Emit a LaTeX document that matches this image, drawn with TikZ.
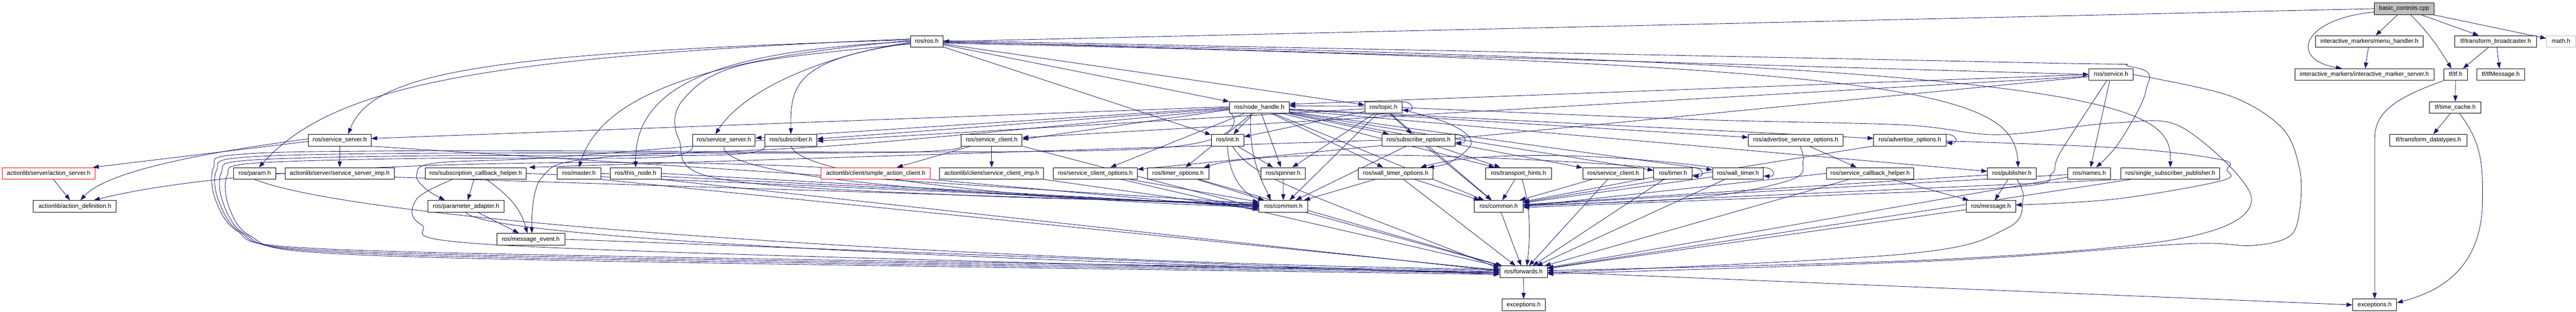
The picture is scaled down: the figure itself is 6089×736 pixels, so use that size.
\documentclass[tikz,border=0pt]{standalone}
\usepackage{fontspec}
\setmainfont{Liberation Sans}
\usetikzlibrary{arrows.meta,backgrounds}
\definecolor{edgeblue}{HTML}{191970}
\definecolor{srcgray}{HTML}{BFBFBF}
\tikzset{>={Triangle[length=14pt,width=10pt]}}
\tikzset{
  hdr/.style={draw=black, line width=1.1pt, fill=white, minimum height=27.5pt,
    inner xsep=2pt, inner ysep=0pt, text height=10.6pt, text depth=3pt,
    font=\fontsize{14.3pt}{16pt}\selectfont},
  redhdr/.style={hdr, draw=red},
  dep/.style={->, draw=edgeblue, line width=1.05pt},
}

\begin{document}
\begin{tikzpicture}[x=1pt,y=1pt]
  \useasboundingbox (0,0) rectangle (6089,-736);

  \node[hdr, fill=srcgray, minimum width=141pt] (bc) at (5682.5,-20.5) {basic\_controls.cpp};

  \node[hdr, minimum width=77pt] (rosh) at (2190.5,-98) {ros/ros.h};
  \node[hdr, minimum width=255pt] (menuh) at (5600.5,-98) {interactive\_markers/menu\_handler.h};
  \node[hdr, minimum width=194pt] (tfbc) at (5899,-98) {tf/transform\_broadcaster.h};
  \node[hdr, draw=srcgray, minimum width=69pt] (mathh) at (6053.5,-98) {math.h};

  \node[hdr, minimum width=104pt] (service) at (4990,-176) {ros/service.h};
  \node[hdr, minimum width=329pt] (ims) at (5588.5,-176) {interactive\_markers/interactive\_marker\_server.h};
  \node[hdr, minimum width=55pt] (tftf) at (5804.5,-176) {tf/tf.h};
  \node[hdr, minimum width=114pt] (tfmsg) at (5911,-176) {tf/tfMessage.h};

  \node[hdr, minimum width=141pt] (nh) at (2976.5,-254) {ros/node\_handle.h};
  \node[hdr, minimum width=88pt] (topic) at (3270,-254) {ros/topic.h};
  \node[hdr, minimum width=121pt] (tcache) at (5803.5,-254) {tf/time\_cache.h};

  \node[hdr, minimum width=148pt] (srvsrvA) at (803,-331) {ros/service\_server.h};
  \node[hdr, minimum width=148pt] (srvsrvB) at (1711,-331) {ros/service\_server.h};
  \node[hdr, minimum width=123pt] (subscriber) at (1869.5,-331) {ros/subscriber.h};
  \node[hdr, minimum width=144pt] (srvcliA) at (2344,-331) {ros/service\_client.h};
  \node[hdr, minimum width=77pt] (init) at (2901.5,-331) {ros/init.h};
  \node[hdr, minimum width=172pt] (subopts) at (3353,-331) {ros/subscribe\_options.h};
  \node[hdr, minimum width=223pt] (advsrvopts) at (4244.5,-331) {ros/advertise\_service\_options.h};
  \node[hdr, minimum width=171pt] (advopts) at (4514.5,-331) {ros/advertise\_options.h};
  \node[hdr, minimum width=182pt] (tfdt) at (5740,-331) {tf/transform\_datatypes.h};

  \node[redhdr, minimum width=220pt] (actsrv) at (115,-409.5) {actionlib/server/action\_server.h};
  \node[hdr, minimum width=100pt] (param) at (602,-409.5) {ros/param.h};
  \node[hdr, minimum width=258pt] (ssimp) at (803,-409.5) {actionlib/server/service\_server\_imp.h};
  \node[hdr, minimum width=239pt] (subcb) at (1124.5,-409.5) {ros/subscription\_callback\_helper.h};
  \node[hdr, minimum width=103pt] (master) at (1368.5,-409.5) {ros/master.h};
  \node[hdr, minimum width=121pt] (thisnode) at (1502.5,-409.5) {ros/this\_node.h};
  \node[redhdr, minimum width=258pt] (sac) at (2070,-409.5) {actionlib/client/simple\_action\_client.h};
  \node[hdr, minimum width=246pt] (scimp) at (2344,-409.5) {actionlib/client/service\_client\_imp.h};
  \node[hdr, minimum width=198pt] (scopts) at (2589,-409.5) {ros/service\_client\_options.h};
  \node[hdr, minimum width=145pt] (timeropts) at (2784.5,-409.5) {ros/timer\_options.h};
  \node[hdr, minimum width=104pt] (spinner) at (3033,-409.5) {ros/spinner.h};
  \node[hdr, minimum width=176pt] (wtopts) at (3299,-409.5) {ros/wall\_timer\_options.h};
  \node[hdr, minimum width=155pt] (thints) at (3589.5,-409.5) {ros/transport\_hints.h};
  \node[hdr, minimum width=144pt] (srvcliB) at (3813,-409.5) {ros/service\_client.h};
  \node[hdr, minimum width=91pt] (timer) at (3954.5,-409.5) {ros/timer.h};
  \node[hdr, minimum width=120pt] (wtimer) at (4108,-409.5) {ros/wall\_timer.h};
  \node[hdr, minimum width=207pt] (scbh) at (4420.5,-409.5) {ros/service\_callback\_helper.h};
  \node[hdr, minimum width=115pt] (publisher) at (4755.5,-409.5) {ros/publisher.h};
  \node[hdr, minimum width=101pt] (names) at (4938.5,-409.5) {ros/names.h};
  \node[hdr, minimum width=234pt] (ssp) at (5130,-409.5) {ros/single\_subscriber\_publisher.h};

  \node[hdr, minimum width=196pt] (actdef) at (177,-487) {actionlib/action\_definition.h};
  \node[hdr, minimum width=181pt] (padapt) at (1101.5,-487) {ros/parameter\_adapter.h};
  \node[hdr, minimum width=115pt] (commonA) at (3033.5,-487) {ros/common.h};
  \node[hdr, minimum width=115pt] (commonB) at (3542.5,-487) {ros/common.h};
  \node[hdr, minimum width=116pt] (message) at (4706,-487) {ros/message.h};

  \node[hdr, minimum width=161pt] (msgevent) at (1254.5,-565) {ros/message\_event.h};
  \node[hdr, minimum width=112pt] (forwards) at (3601,-642) {ros/forwards.h};
  \node[hdr, minimum width=103pt] (excA) at (3601.5,-720) {exceptions.h};
  \node[hdr, minimum width=104pt] (excB) at (5613,-720) {exceptions.h};

  \begin{scope}[on background layer]
  \draw[dep] (bc.west) -- (rosh.east);
  \draw[dep] ([yshift=-8pt]bc.west) .. controls (5440,-45) and (5410,-140) .. ([xshift=-53pt]ims.north);
  \draw[dep] (bc) -- (menuh);
  \draw[dep] ([xshift=15pt]bc.south) .. controls (5745,-80) and (5775,-130) .. ([xshift=-10pt]tftf.north);
  \draw[dep] (bc) -- (tfbc);
  \draw[dep] (bc) -- (mathh);
  \draw[dep] (menuh) -- (ims);
  \draw[dep] (tfbc) -- (tftf);
  \draw[dep] ([xshift=3pt]tfbc.south) -- ([xshift=-3pt]tfmsg.north);
  \draw[dep] (tftf) -- (tcache);
  \draw[dep] (tftf.south west) .. controls (5650,-235) and (5613,-270) .. (5613,-330) -- (excB.north);
  \draw[dep] (tcache) -- (tfdt);
  \draw[dep] ([xshift=10pt]tcache.south) .. controls (5870,-340) and (5868,-400) .. (5868,-470) .. controls (5868,-640) and (5760,-690) .. ([yshift=5pt]excB.east);
  \draw[dep] (forwards) -- (excA);
  \draw[dep] (forwards.east) -- (excB.west);

  \draw[dep] ([yshift=6pt]rosh.west) .. controls (1100,-135) and (780,-210) .. ([xshift=10pt]param.north);
  \draw[dep] ([yshift=4pt]rosh.west) .. controls (1150,-125) and (880,-170) .. ([xshift=20pt]srvsrvA.north);
  \draw[dep] ([yshift=2pt]rosh.west) .. controls (1650,-140) and (1420,-230) .. (master.north);
  \draw[dep] (rosh.west) .. controls (1700,-120) and (1500,-200) .. (thisnode.north);
  \draw[dep] ([yshift=-2pt]rosh.west) .. controls (1950,-130) and (1760,-210) .. ([xshift=-20pt]srvsrvB.north);
  \draw[dep] ([yshift=-4pt]rosh.west) .. controls (1880,-140) and (1868,-200) .. (subscriber.north);
  \draw[dep] plot[smooth,tension=0.6] coordinates {([yshift=-6pt]rosh.west) (1760,-152) (1615,-235) (1605,-330) (1700,-422) (2300,-462) ([yshift=8pt]commonA.west)};
  \draw[dep] (rosh) -- (nh);
  \draw[dep] (rosh) -- (topic);
  \draw[dep] (rosh) -- (init);
  \draw[dep] (rosh.east) -- (service.west);
  \draw[dep] ([yshift=-4pt]rosh.east) .. controls (4550,-150) and (4760,-220) .. ([xshift=15pt]publisher.north);
  \draw[dep] ([yshift=-2pt]rosh.east) .. controls (5050,-148) and (5133,-250) .. (ssp.north);
  \draw[dep] plot[smooth,tension=0.6] coordinates {([yshift=2pt]rosh.east) (4700,-146) (5040,-158) (5072,-215) (5010,-335) ([xshift=16pt]names.north)};

  \draw[dep] ([yshift=-3pt]srvsrvA.west) -- ([xshift=-6pt]actsrv.north east);
  \draw[dep] ([yshift=3pt]srvsrvA.west) .. controls (330,-380) and (230,-430) .. ([xshift=13pt]actdef.north);
  \draw[dep] (srvsrvA) -- (ssimp);
  \draw[dep] (srvsrvA.south east) -- ([yshift=6pt]commonA.west);
  \draw[dep] (actsrv) -- (actdef);
  \draw[dep] (sac.north west) .. controls (1500,-372) and (600,-378) .. ([xshift=45pt]actdef.north);
  \draw[dep] (param.east) -- ([yshift=4pt]commonA.west);
  \draw[dep] (param.south) .. controls (900,-540) and (2600,-625) .. ([yshift=6pt]forwards.west);

  \draw[dep] plot[smooth,tension=0.55] coordinates {([yshift=-8pt]nh.west) (2700,-352) (1000,-356) (560,-365) (505,-395) (508,-468) (560,-545) (700,-584) (1500,-606) ([yshift=3pt]forwards.west)};
  \draw[dep] plot[smooth,tension=0.55] coordinates {(srvcliA.south west) (2100,-360) (1000,-362) (570,-372) (512,-402) (516,-472) (568,-548) (715,-588) (1500,-610) (forwards.west)};
  \draw[dep] plot[smooth,tension=0.55] coordinates {(subscriber.south west) (1700,-366) (1000,-368) (580,-379) (523,-408) (527,-478) (578,-552) (730,-592) (1500,-614) ([yshift=-3pt]forwards.west)};
  \draw[dep] plot[smooth,tension=0.55] coordinates {(srvsrvB.south west) (1550,-372) (1000,-374) (592,-386) (537,-415) (540,-485) (590,-556) (745,-596) (1500,-618) ([yshift=-6pt]forwards.west)};

  \draw[dep] (subcb) -- (padapt);
  \draw[dep] ([xshift=25pt]subcb.south) to[out=-35,in=105] ([xshift=-8pt]msgevent.north);
  \draw[dep] (subcb.east) -- ([yshift=2pt]commonA.west);
  \draw[dep] plot[smooth,tension=0.6] coordinates {([xshift=-55pt]subcb.south) (985,-470) (995,-530) (1170,-578) (2500,-622) ([yshift=-1pt]forwards.west)};
  \draw[dep] (padapt) -- (msgevent);
  \draw[dep] (padapt.south) .. controls (1140,-570) and (2700,-628) .. ([yshift=-3pt]forwards.west);
  \draw[dep] (msgevent.east) -- ([yshift=-6pt]forwards.west);
  \draw[dep] plot[smooth,tension=0.6] coordinates {(subscriber.west) (1300,-372) (1030,-385) (985,-412) (1005,-445) ([xshift=-50pt]padapt.north)};
  \draw[dep] plot[smooth,tension=0.6] coordinates {([yshift=-4pt]nh.west) (2000,-342) (1420,-372) (1280,-420) ([xshift=3pt]msgevent.north)};

  \draw[dep] (master.east) -- (commonA.west);
  \draw[dep] (master.south east) -- ([yshift=4pt]forwards.west);
  \draw[dep] (thisnode.east) -- ([yshift=-1pt]commonA.west);
  \draw[dep] (thisnode.south east) -- ([yshift=2pt]forwards.west);
  \draw[dep] (srvsrvB.south) .. controls (1700,-420) and (2300,-465) .. ([yshift=3pt]commonA.west);
  \draw[dep] (subscriber.south) .. controls (1900,-425) and (2500,-475) .. ([yshift=-2pt]commonA.west);

  \draw[dep] (srvcliA) -- (sac);
  \draw[dep] (srvcliA) -- (scimp);
  \draw[dep] (srvcliA.south east) -- ([yshift=-4pt]commonA.west);
  \draw[dep] (sac.south east) -- ([yshift=-6pt]commonA.west);
  \draw[dep] (scimp.south east) -- ([yshift=-8pt]commonA.west);

  \draw[dep] ([yshift=2pt]nh.west) -- ([yshift=4pt]srvsrvA.east);
  \draw[dep] (nh.west) -- ([yshift=5pt]srvsrvB.east);
  \draw[dep] ([yshift=-2pt]nh.west) -- ([yshift=3pt]subscriber.east);
  \draw[dep] ([yshift=-5pt]nh.west) -- ([yshift=2pt]srvcliA.east);
  \draw[dep] (nh) -- (init);
  \draw[dep] (nh) -- (scopts);
  \draw[dep] (nh) -- (timeropts);
  \draw[dep] (nh) -- (spinner);
  \draw[dep] (nh) -- (wtopts);
  \draw[dep] (nh) -- (subopts);
  \draw[dep] (nh) -- (advsrvopts);
  \draw[dep] (nh) -- (advopts);
  \draw[dep] (nh) -- (srvcliB);
  \draw[dep] (nh) -- (timer);
  \draw[dep] (nh) -- (wtimer);
  \draw[dep] (nh) -- (publisher);
  \draw[dep] (nh) -- (thints);
  \draw[dep] ([xshift=-20pt]nh.south) .. controls (2950,-380) and (2990,-440) .. ([xshift=-30pt]commonA.north);
  \draw[dep] (nh) -- (commonB);

  \draw[dep] ([xshift=-4pt]topic.north east) .. controls +(32,0) and +(30,-2) .. ([yshift=-6pt]topic.east);
  \draw[dep] ([yshift=3pt]topic.west) -- ([yshift=4pt]nh.east);
  \draw[dep] ([yshift=-3pt]topic.west) -- ([yshift=-2pt]subscriber.east);
  \draw[dep] (topic) -- (init);
  \draw[dep] (topic) -- (spinner);
  \draw[dep] (topic) -- (subopts);
  \draw[dep] (topic) -- (commonA);
  \draw[dep] plot[smooth,tension=0.6] coordinates {([yshift=-5pt]topic.east) (3425,-292) (3478,-335) (3430,-382) ([xshift=-12pt]wtopts.north east)};
  \draw[dep] (topic) -- (commonB);
  \draw[dep] plot[smooth,tension=0.55] coordinates {(topic.east) (4000,-282) (4500,-295) (4724,-318) (5000,-290) (5160,-302) (5322,-470) (5160,-562) (4600,-612) ([yshift=3pt]forwards.east)};

  \draw[dep] ([xshift=-4pt]subopts.north east) .. controls +(32,0) and +(30,-2) .. ([yshift=-6pt]subopts.east);
  \draw[dep] (subopts.west) -- ([xshift=6pt]subcb.north east);
  \draw[dep] (subopts) -- (commonA);
  \draw[dep] (subopts) -- (thints);
  \draw[dep] (subopts) -- (commonB);

  \draw[dep] (advsrvopts) -- (scbh);
  \draw[dep] plot[smooth,tension=0.6] coordinates {([xshift=10pt]advsrvopts.south) (4262,-380) (4232,-425) (4000,-468) ([yshift=3pt]commonB.east)};
  \draw[dep] ([xshift=-4pt]advopts.north east) .. controls +(32,0) and +(30,-2) .. ([yshift=-6pt]advopts.east);
  \draw[dep] plot[smooth,tension=0.6] coordinates {([yshift=-2pt]advopts.east) (5020,-350) (5250,-377) (5264,-401) (5250,-427) (5000,-470) ([yshift=3pt]message.east)};
  \draw[dep] (advopts) -- (commonB);
  \draw[dep] (scbh.west) -- (commonB.east);
  \draw[dep] (scbh) -- (forwards);
  \draw[dep] (scbh) -- (message);

  \draw[dep] (srvcliB) -- (commonB);
  \draw[dep] (srvcliB) -- (forwards);
  \draw[dep] ([xshift=-4pt]timer.north east) .. controls +(32,0) and +(30,-2) .. ([yshift=-6pt]timer.east);
  \draw[dep] (timer.north west) .. controls (3500,-365) and (3000,-350) .. ([xshift=-12pt]timeropts.north east);
  \draw[dep] (timer) -- (commonB);
  \draw[dep] (timer) -- (forwards);
  \draw[dep] ([xshift=-4pt]wtimer.north east) .. controls +(32,0) and +(30,-2) .. ([yshift=-6pt]wtimer.east);
  \draw[dep] (wtimer.north west) .. controls (3800,-362) and (3500,-355) .. ([xshift=-30pt]wtopts.north east);
  \draw[dep] (wtimer) -- (commonB);
  \draw[dep] (wtimer) -- (forwards);
  \draw[dep] (thints) -- (commonB);
  \draw[dep] ([xshift=8pt]thints.south) .. controls (3622,-500) and (3615,-580) .. ([xshift=8pt]forwards.north);

  \draw[dep] (publisher) -- (message);
  \draw[dep] (publisher) -- (commonB);
  \draw[dep] plot[smooth,tension=0.6] coordinates {([xshift=12pt]publisher.south) (4782,-470) (4742,-540) (4500,-600) ([yshift=-2pt]forwards.east)};
  \draw[dep] (names) -- (commonB);
  \draw[dep] (names) -- (forwards);
  \draw[dep] (ssp.south west) -- (commonB.east);
  \draw[dep] (ssp) -- (forwards);
  \draw[dep] (message) -- (forwards);

  \draw[dep] (service) -- (names);
  \draw[dep] (service.west) -- ([yshift=8pt]nh.east);
  \draw[dep] ([yshift=-4pt]service.west) -- ([yshift=6pt]srvcliA.east);
  \draw[dep] (service) -- (scopts);
  \draw[dep] plot[smooth,tension=0.6] coordinates {([xshift=-10pt]service.south) (4870,-360) (4850,-410) (4780,-440) (4300,-462) ([yshift=-3pt]commonB.east)};
  \draw[dep] plot[smooth,tension=0.55] coordinates {(service.east) (5270,-226) (5395,-303) (5436,-401) (5436,-494) (5413,-557) (5323,-580) (5162,-576) (4600,-615) ([yshift=-5pt]forwards.east)};

  \draw[dep] (commonA) -- (forwards);
  \draw[dep] (commonB) -- (forwards);
  \draw[dep] (timeropts) -- (commonA);
  \draw[dep] (timeropts) -- (forwards);
  \draw[dep] (wtopts) -- (commonA);
  \draw[dep] (wtopts) -- (commonB);
  \draw[dep] (wtopts) -- (forwards);
  \draw[dep] (scopts) -- (commonA);
  \draw[dep] (scopts) -- (forwards);
  \draw[dep] (spinner) -- (commonA);
  \draw[dep] (init.south) .. controls (2905,-420) and (2940,-460) .. ([xshift=-45pt]commonA.north);
  \draw[dep] ([xshift=12pt]init.south) .. controls (2960,-420) and (3050,-440) .. ([yshift=8pt]forwards.west);
  \draw[dep] (init) -- (spinner);
  \end{scope}
\end{tikzpicture}
\end{document}
